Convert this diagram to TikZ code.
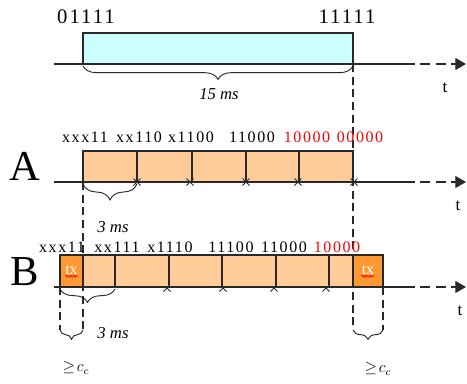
\documentclass[tikz,border=0pt]{standalone}
\usepackage{fontspec}
\setmainfont{Liberation Serif}
\newfontfamily\bitsfont{Liberation Serif}[LetterSpace=10]
\usetikzlibrary{arrows.meta,decorations.pathreplacing,decorations.pathmorphing}
\definecolor{LightCyan}{RGB}{204,255,255}
\definecolor{LightOrange}{RGB}{255,204,153}
\definecolor{DarkOrange}{RGB}{255,153,51}
\definecolor{LineGray}{RGB}{40,40,40}

\begin{document}
\begin{tikzpicture}[x=0.75pt,y=-0.75pt,
    axisline/.style={line width=0.9pt, draw=LineGray},
    cell/.style={draw=LineGray, line width=0.9pt},
    guide/.style={draw=LineGray, line width=0.8pt, dash pattern=on 6pt off 3.5pt},
    bracemark/.style={draw=LineGray, line width=0.7pt, decorate},
    bits/.style={inner sep=0pt, font=\bitsfont\fontsize{12}{14}\selectfont},
    bigbits/.style={inner sep=0pt, font=\bitsfont\fontsize{15.5}{18}\selectfont},
    dur/.style={inner sep=0pt, font=\itshape\fontsize{12.5}{14}\selectfont},
    rowname/.style={inner sep=0pt, font=\fontsize{32}{36}\selectfont},
    txlabel/.style={inner sep=0pt, text=white, font=\fontsize{12}{14}\selectfont}]
    \useasboundingbox (0,0) rectangle (467,383);

    % Time axes: solid part, dashed tail, arrow tip and t
    \foreach \y/\tpos/\nm in {64/445/top,182/458/A,287/460/B} {
        \coordinate (ax\nm) at (54,\y);
        \coordinate (mid\nm) at (405,\y);
        \coordinate (tip\nm) at (466,\y);
        \draw[axisline] (ax\nm) -- (mid\nm);
        \draw[axisline, dash pattern=on 7.5pt off 4pt,
              -{Triangle[length=8pt,width=9pt]}] (mid\nm) -- (tip\nm);
        \node[inner sep=0pt, font=\fontsize{13}{15}\selectfont]
            (t\nm) at (\tpos,\y+24) {t};
    }

    % Guide lines (drawn first, boxes go on top)
    \coordinate (endTop) at (353,64);
    \coordinate (endLow) at (353,330);
    \coordinate (startA) at (83,182);
    \coordinate (startLow) at (83,330);
    \coordinate (txL) at (60,287);
    \coordinate (txLlow) at (60,330);
    \coordinate (txR) at (383,287);
    \coordinate (txRlow) at (383,330);
    \draw[guide] (endTop) -- (endLow);
    \draw[guide] (startA) -- (startLow);
    \draw[guide] (txL) -- (txLlow);
    \draw[guide] (txR) -- (txRlow);

    % Top: one long slot
    \draw[cell, fill=LightCyan] (83,33) rectangle (353,64);
    \node[bigbits] (first) at (86,17) {01111};
    \node[bigbits] (last) at (347,17) {11111};
    \draw[bracemark, decoration={brace, mirror, amplitude=10pt}] (83,66) -- (353,66);
    \node[dur] (longdur) at (219,94) {15 ms};

    % Row A
    \node[rowname] (rowA) at (25,166) {A};
    \foreach \a/\b in {83/137,137/192,192/246,246/299,299/353}
        \draw[cell, fill=LightOrange] (\a,151) rectangle (\b,182);
    \foreach \x in {137,190,246,298,354}
        \draw[LineGray, line width=0.6pt] (\x-3.5,178.5) -- (\x+3.5,185.5)
                                          (\x-3.5,185.5) -- (\x+3.5,178.5);
    \foreach \x/\txt/\col [count=\i] in {85/xxx11/black,139/xx110/black,191/x1100/black,
                                        252/11000/black,307/10000/red,360/00000/red}
        \node[bits, text=\col] (a\i) at (\x,137) {\txt};
    \draw[bracemark, decoration={brace, mirror, amplitude=12pt}] (83,184) -- (137,184);
    \node[dur] (durA) at (113,227) {3 ms};

    % Row B
    \node[rowname] (rowB) at (25,272) {B};
    \foreach \x in {167,223,274,326}
        \draw[LineGray, line width=0.6pt] (\x-3.5,284.5) -- (\x+3.5,291.5)
                                          (\x-3.5,291.5) -- (\x+3.5,284.5);
    \foreach \a/\b in {83/115,115/169,169/222,222/276,276/329,329/353}
        \draw[cell, fill=LightOrange] (\a,255) rectangle (\b,287);
    \draw[cell, fill=DarkOrange] (60,255) rectangle (83,287);
    \draw[cell, fill=DarkOrange] (353,255) rectangle (383,287);
    \node[txlabel] (txa) at (71.5,270) {tx};
    \node[txlabel] (txb) at (368,270) {tx};
    \draw[red, line width=0.5pt, decorate, decoration={zigzag, amplitude=0.7pt, segment length=2pt}]
        ([yshift=-1pt]txa.south west) -- ([yshift=-1pt]txa.south east);
    \draw[red, line width=0.5pt, decorate, decoration={zigzag, amplitude=0.7pt, segment length=2pt}]
        ([yshift=-1pt]txb.south west) -- ([yshift=-1pt]txb.south east);
    \foreach \x/\txt/\col [count=\i] in {62/xxx11/black,117/xx111/black,170/x1110/black,
                                        231/11100/black,284/11000/black,337/10000/red}
        \node[bits, text=\col] (b\i) at (\x,247) {\txt};
    \draw[bracemark, decoration={brace, mirror, amplitude=10pt}] (60,289) -- (115,289);
    \node[dur] (durB) at (113,333) {3 ms};

    % Guard intervals
    \draw[bracemark, decoration={brace, mirror, amplitude=7pt}] (txLlow) -- (startLow);
    \draw[bracemark, decoration={brace, mirror, amplitude=7pt}] (endLow) -- (txRlow);
    \node[inner sep=0pt, font=\fontsize{12}{14}\selectfont] (guardL) at (76,368) {$\geq\! c_c$};
    \node[inner sep=0pt, font=\fontsize{12}{14}\selectfont] (guardR) at (378,369) {$\geq\! c_c$};
\end{tikzpicture}
\end{document}
